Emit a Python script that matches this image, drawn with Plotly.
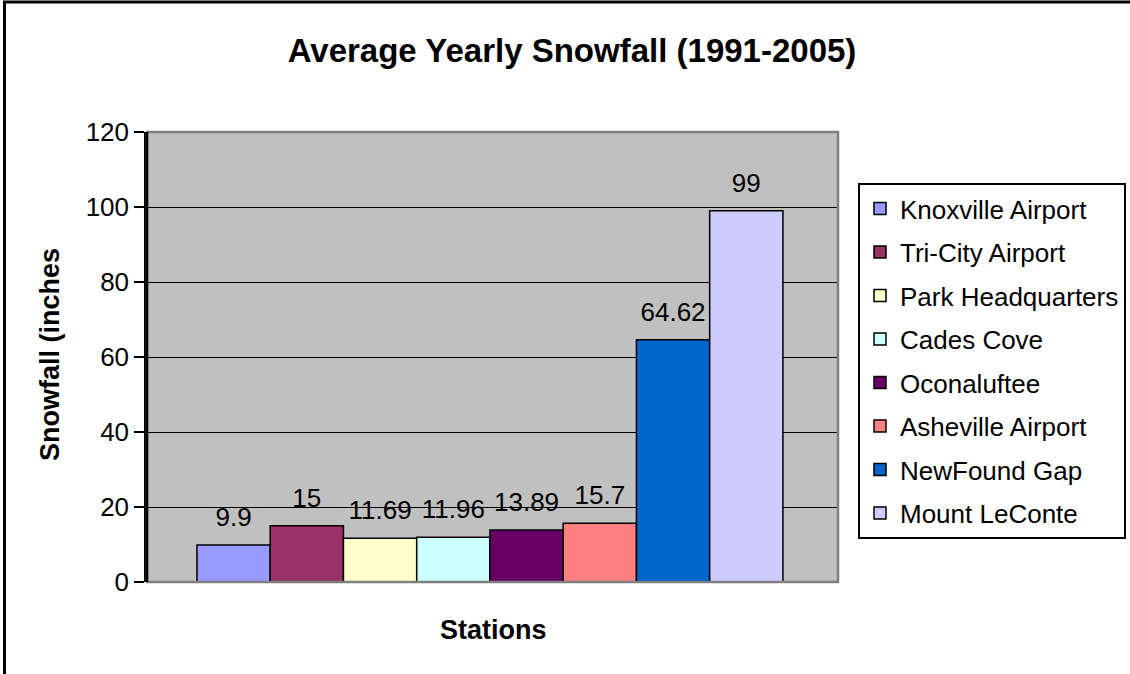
import plotly.graph_objects as go

stations = ["Knoxville Airport", "Tri-City Airport", "Park Headquarters", "Cades Cove",
            "Oconaluftee", "Asheville Airport", "NewFound Gap", "Mount LeConte"]
snowfall = [9.9, 15, 11.69, 11.96, 13.89, 15.7, 64.62, 99]
labels = ["9.9", "15", "11.69", "11.96", "13.89", "15.7", "64.62", "99"]
colors = ["#9999FF", "#993366", "#FFFFCC", "#CCFFFF", "#660066", "#FF8080", "#0066CC", "#CCCCFF"]
category = ["Stations"]
y_ticks = [0, 20, 40, 60, 80, 100, 120]

W, H = 1130, 674
L, R, T, B = 147, 838, 132, 582
pw, ph = R - L, B - T

def px_x(x):
    return (x - L) / pw

def px_y(y):
    return (B - y) / ph

FONT = "Liberation Sans, Arial, sans-serif"
FS = 26

fig = go.Figure()
for i, (name, val, lab, col) in enumerate(zip(stations, snowfall, labels, colors)):
    fig.add_trace(go.Bar(
        x=category, y=[val], name=name,
        marker=dict(color=col, line=dict(color="black", width=1.5)),
        offsetgroup=str(i), alignmentgroup="a",
        legendgroup=str(i),
    ))
for i, (name, val, lab) in enumerate(zip(stations, snowfall, labels)):
    fig.add_trace(go.Scatter(
        x=category, y=[val], text=[lab], mode="markers+text",
        textposition="top center",
        textfont=dict(family=FONT, size=FS, color="black"),
        marker=dict(size=18, opacity=0),
        offsetgroup=str(i), alignmentgroup="a",
        showlegend=False, hoverinfo="skip", legendgroup="lab" + str(i),
    ))

fig.update_layout(
    width=W, height=H,
    margin=dict(l=L, r=W - R, t=T, b=H - B, pad=0, autoexpand=False),
    paper_bgcolor="white", plot_bgcolor="#C0C0C0",
    barmode="group", scattermode="group", bargap=0.152, bargroupgap=0,
    font=dict(family=FONT, color="black"),
    title=dict(text="<b>Average Yearly Snowfall (1991-2005)</b>",
               font=dict(family=FONT, size=33, color="black"),
               x=572 / W, xanchor="center", xref="container",
               y=1 - 50 / H, yanchor="middle", yref="container"),
    xaxis=dict(range=[-0.4963, 0.5037], showticklabels=False, showgrid=False,
               zeroline=False, showline=False, ticks=""),
    yaxis=dict(range=[0, 120], tickvals=y_ticks, ticktext=[str(v) for v in y_ticks],
               showgrid=True, gridcolor="black", gridwidth=1, zeroline=False,
               showline=True, linecolor="black", linewidth=2.5,
               ticks="outside", ticklen=10, tickwidth=2, tickcolor="black",
               tickfont=dict(family=FONT, size=FS, color="black")),
    legend=dict(x=px_x(858), y=px_y(183), xanchor="left", yanchor="top",
                bordercolor="black", borderwidth=2, bgcolor="white",
                font=dict(family=FONT, size=FS, color="black"),
                tracegroupgap=6.7, traceorder="grouped"),
    showlegend=True,
)

# plot area border (gray)
fig.add_shape(type="rect", xref="paper", yref="paper", x0=0, x1=1, y0=0, y1=1,
              line=dict(color="#808080", width=2.5), layer="above")
# re-draw the y axis line on top of the border
fig.add_shape(type="line", xref="paper", yref="paper", x0=0, x1=0, y0=0, y1=1,
              line=dict(color="black", width=2.5), layer="above")
# outer chart border
fig.add_shape(type="rect", xref="paper", yref="paper",
              x0=px_x(4.5), x1=px_x(1140), y0=px_y(2), y1=px_y(690),
              line=dict(color="black", width=3), layer="above")

fig.add_annotation(text="<b>Snowfall (inches</b>", xref="paper", yref="paper",
                   x=px_x(50), y=px_y(355), textangle=-90, showarrow=False,
                   xanchor="center", yanchor="middle",
                   font=dict(family=FONT, size=27, color="black"))
fig.add_annotation(text="<b>Stations</b>", xref="paper", yref="paper",
                   x=px_x(493), y=px_y(630), showarrow=False,
                   xanchor="center", yanchor="middle",
                   font=dict(family=FONT, size=27, color="black"))

fig.write_html("out.html")
